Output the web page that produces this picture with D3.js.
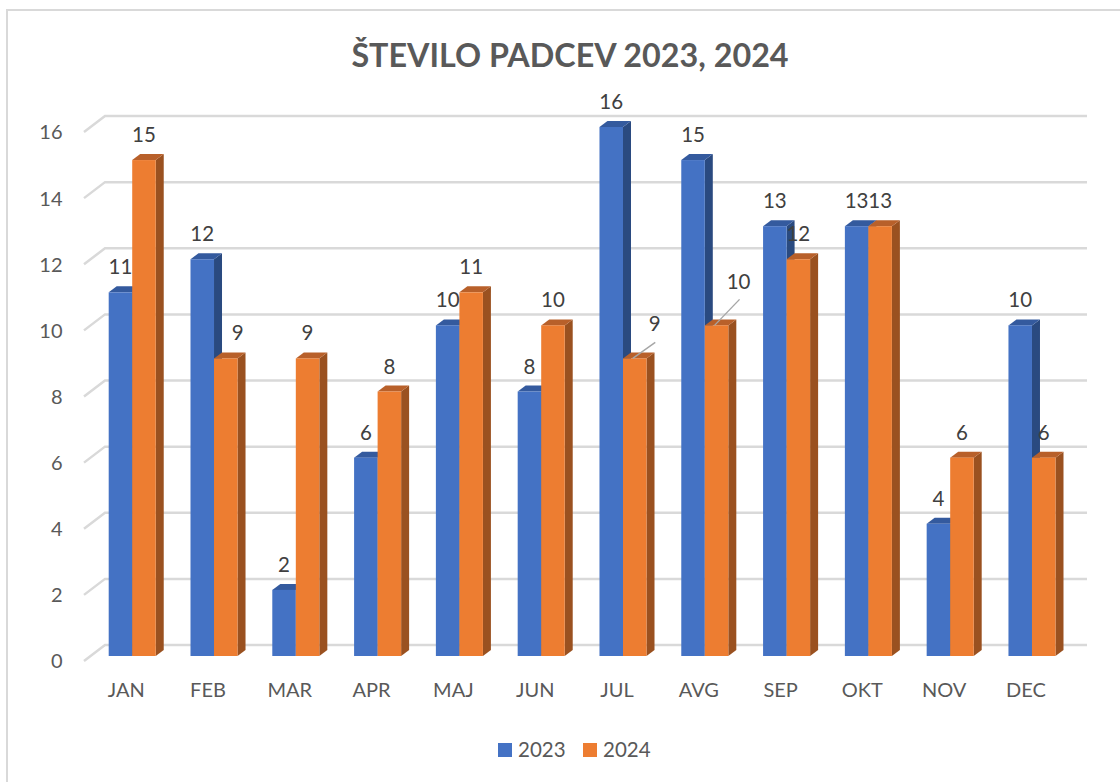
<!DOCTYPE html>
<html>
<head>
<meta charset="utf-8">
<script src="https://cdn.jsdelivr.net/npm/d3@7"></script>
<style>
    html, body { margin: 0; padding: 0; background: #fff; }
    svg { display: block; font-family: Lato, "Open Sans", sans-serif; }
</style>
</head>
<body>
<svg id="chart" width="1120" height="782"></svg>
<script>
const months = ["JAN", "FEB", "MAR", "APR", "MAJ", "JUN", "JUL", "AVG", "SEP", "OKT", "NOV", "DEC"];
const seriesNames = ["2023", "2024"];
const values2023 = [11, 12, 2, 6, 10, 8, 16, 15, 13, 13, 4, 10];
const values2024 = [15, 9, 9, 8, 11, 10, 9, 10, 12, 13, 6, 6];
const yTicks = [0, 2, 4, 6, 8, 10, 12, 14, 16];

const colors = {
    "2023": { front: "#4472c4", side: "#2a4a80", top: "#345a9e" },
    "2024": { front: "#ed7d31", side: "#9a5120", top: "#b8602a" }
};

const svg = d3.select("#chart");

// fake 3d: bars are pushed back by (dx, dy), the wall by (wallX, wallY)
const dx = 8, dy = 6;
const wallX = 21, wallY = 16;
const wallShift = 11;

const x = d3.scaleBand().domain(months).range([108.7, 1055.5]).paddingInner(0.425).paddingOuter(0);
const xSeries = d3.scaleBand().domain(seriesNames).range([0, x.bandwidth()]);
const y = d3.scaleLinear().domain([0, 16]).range([656, 127]);

const rows = months.map((m, i) => ({ month: m, "2023": values2023[i], "2024": values2024[i] }));

// frame, only top and left show in the picture
svg.append("path")
    .attr("d", "M1120,10H7V782")
    .attr("fill", "none")
    .attr("stroke", "#d9d9d9")
    .attr("stroke-width", 2);

svg.append("text")
    .attr("x", 570)
    .attr("y", 67)
    .attr("text-anchor", "middle")
    .attr("font-size", 32.3)
    .attr("font-weight", 700)
    .attr("fill", "#595959")
    .text("ŠTEVILO PADCEV 2023, 2024");

// grid
const grid = svg.append("g")
    .attr("fill", "none")
    .attr("stroke", "#d9d9d9")
    .attr("stroke-width", 2.5);

grid.selectAll("path")
    .data(yTicks)
    .enter().append("path")
    .attr("d", (t) => {
        const back = y(t) - wallShift;
        const p = d3.path();
        p.moveTo(84, back + wallY);
        p.lineTo(84 + wallX, back);
        p.lineTo(1087, back);
        return p.toString();
    });

// axes
const yAxis = svg.append("g")
    .attr("transform", "translate(62.5, 5.5)")
    .call(d3.axisLeft(y).tickValues(yTicks).tickSize(0).tickPadding(0));
const xAxis = svg.append("g")
    .attr("transform", "translate(-6, 683)")
    .call(d3.axisBottom(x).tickSize(0).tickPadding(0));

[yAxis, xAxis].forEach((axis) => {
    axis.select(".domain").remove();
    axis.selectAll("text")
        .attr("font-family", "Lato, 'Open Sans', sans-serif")
        .attr("font-size", 20)
        .attr("fill", "#595959");
});

// bars
const group = svg.append("g").selectAll("g")
    .data(rows)
    .enter().append("g")
    .attr("transform", d => `translate(${x(d.month)}, 0)`);

seriesNames.forEach((name) => {
    const left = xSeries(name);
    const right = left + xSeries.bandwidth();
    const bars = group.append("g");

    bars.append("path")
        .attr("fill", colors[name].side)
        .attr("d", (d) => {
            const top = y(d[name]);
            return `M${right},${top}L${right + dx},${top - dy}V${y(0) - dy}L${right},${y(0)}Z`;
        });
    bars.append("path")
        .attr("fill", colors[name].top)
        .attr("d", (d) => {
            const top = y(d[name]);
            return `M${left},${top}L${left + dx},${top - dy}H${right + dx}L${right},${top}Z`;
        });
    bars.append("rect")
        .attr("x", left)
        .attr("y", d => y(d[name]))
        .attr("width", xSeries.bandwidth())
        .attr("height", d => y(0) - y(d[name]))
        .attr("fill", colors[name].front);
});

// some 2024 labels sit away from their bar, two of them with a leader line
const moved = {
    "FEB": { ox: 12, oy: 0 },
    "JUL": { ox: 20, oy: -9, leader: [-2, 0, 20.5, -16] },
    "AVG": { ox: 22, oy: -18, leader: [-2, 0, 23, -26] }
};

const labels = svg.append("g")
    .attr("font-size", 20.5)
    .attr("fill", "#404040")
    .attr("text-anchor", "middle");

seriesNames.forEach((name) => {
    const cx = d => x(d.month) + xSeries(name) + xSeries.bandwidth() / 2;
    const shift = d => (name === "2024" && moved[d.month]) || { ox: 0, oy: 0 };

    labels.selectAll(`text.s${name}`)
        .data(rows)
        .enter().append("text")
        .attr("class", `s${name}`)
        .attr("x", d => cx(d) + shift(d).ox)
        .attr("y", d => y(d[name]) - 18 + shift(d).oy)
        .text(d => d[name]);

    if (name === "2024") {
        svg.append("g")
            .attr("stroke", "#a6a6a6")
            .attr("stroke-width", 1.4)
            .selectAll("line")
            .data(rows.filter(d => moved[d.month] && moved[d.month].leader))
            .enter().append("line")
            .attr("x1", d => cx(d) + moved[d.month].leader[0])
            .attr("y1", d => y(d[name]) + moved[d.month].leader[1])
            .attr("x2", d => cx(d) + moved[d.month].leader[2])
            .attr("y2", d => y(d[name]) + moved[d.month].leader[3]);
    }
});

// legend
const legendX = d3.scalePoint().domain(seriesNames).range([498, 583]);
const legend = svg.append("g").selectAll("g")
    .data(seriesNames)
    .enter().append("g")
    .attr("transform", d => `translate(${legendX(d)}, 743)`);

legend.append("rect")
    .attr("width", 14)
    .attr("height", 14)
    .attr("fill", d => colors[d].front);

legend.append("text")
    .attr("x", 20)
    .attr("y", 14)
    .attr("font-size", 20.5)
    .attr("fill", "#595959")
    .text(d => d);
</script>
</body>
</html>
